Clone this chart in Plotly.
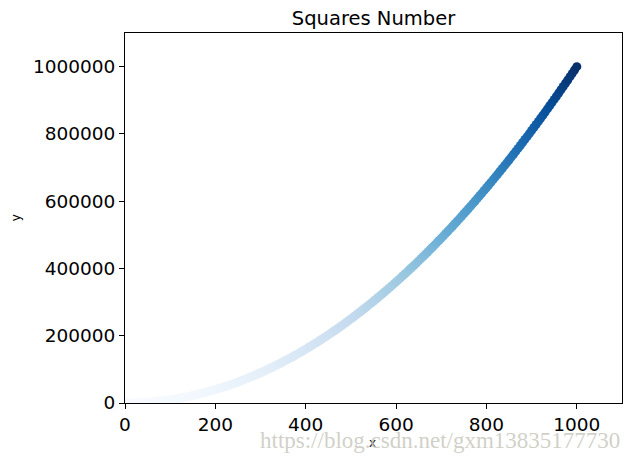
import plotly.graph_objects as go

x_values = [1, 5, 10, 15, 20, 25, 30, 35, 40, 45, 50, 55, 60, 65, 70, 75, 80, 85, 90, 95, 100,
            105, 110, 115, 120, 125, 130, 135, 140, 145, 150, 155, 160, 165, 170, 175, 180, 185, 190, 195, 200,
            205, 210, 215, 220, 225, 230, 235, 240, 245, 250, 255, 260, 265, 270, 275, 280, 285, 290, 295, 300,
            305, 310, 315, 320, 325, 330, 335, 340, 345, 350, 355, 360, 365, 370, 375, 380, 385, 390, 395, 400,
            405, 410, 415, 420, 425, 430, 435, 440, 445, 450, 455, 460, 465, 470, 475, 480, 485, 490, 495, 500,
            505, 510, 515, 520, 525, 530, 535, 540, 545, 550, 555, 560, 565, 570, 575, 580, 585, 590, 595, 600,
            605, 610, 615, 620, 625, 630, 635, 640, 645, 650, 655, 660, 665, 670, 675, 680, 685, 690, 695, 700,
            705, 710, 715, 720, 725, 730, 735, 740, 745, 750, 755, 760, 765, 770, 775, 780, 785, 790, 795, 800,
            805, 810, 815, 820, 825, 830, 835, 840, 845, 850, 855, 860, 865, 870, 875, 880, 885, 890, 895, 900,
            905, 910, 915, 920, 925, 930, 935, 940, 945, 950, 955, 960, 965, 970, 975, 980, 985, 990, 995, 1000]

y_values = [1, 25, 100, 225, 400, 625, 900, 1225, 1600, 2025, 2500, 3025, 3600, 4225, 4900, 5625, 6400, 7225, 8100, 9025, 10000,
            11025, 12100, 13225, 14400, 15625, 16900, 18225, 19600, 21025, 22500, 24025, 25600, 27225, 28900, 30625, 32400, 34225, 36100, 38025, 40000,
            42025, 44100, 46225, 48400, 50625, 52900, 55225, 57600, 60025, 62500, 65025, 67600, 70225, 72900, 75625, 78400, 81225, 84100, 87025, 90000,
            93025, 96100, 99225, 102400, 105625, 108900, 112225, 115600, 119025, 122500, 126025, 129600, 133225, 136900, 140625, 144400, 148225, 152100, 156025, 160000,
            164025, 168100, 172225, 176400, 180625, 184900, 189225, 193600, 198025, 202500, 207025, 211600, 216225, 220900, 225625, 230400, 235225, 240100, 245025, 250000,
            255025, 260100, 265225, 270400, 275625, 280900, 286225, 291600, 297025, 302500, 308025, 313600, 319225, 324900, 330625, 336400, 342225, 348100, 354025, 360000,
            366025, 372100, 378225, 384400, 390625, 396900, 403225, 409600, 416025, 422500, 429025, 435600, 442225, 448900, 455625, 462400, 469225, 476100, 483025, 490000,
            497025, 504100, 511225, 518400, 525625, 532900, 540225, 547600, 555025, 562500, 570025, 577600, 585225, 592900, 600625, 608400, 616225, 624100, 632025, 640000,
            648025, 656100, 664225, 672400, 680625, 688900, 697225, 705600, 714025, 722500, 731025, 739600, 748225, 756900, 765625, 774400, 783225, 792100, 801025, 810000,
            819025, 828100, 837225, 846400, 855625, 864900, 874225, 883600, 893025, 902500, 912025, 921600, 931225, 940900, 950625, 960400, 970225, 980100, 990025, 1000000]

x_ticks = [0, 200, 400, 600, 800, 1000]
y_ticks = [0, 200000, 400000, 600000, 800000, 1000000]

blues = ["#f7fbff", "#deebf7", "#c6dbef", "#9ecae1", "#6baed6",
         "#4292c6", "#2171b5", "#08519c", "#08306b"]
colorscale = [[i / (len(blues) - 1), c] for i, c in enumerate(blues)]

FONT = "DejaVu Sans"

fig = go.Figure(go.Scatter(
    x=x_values, y=y_values, mode="markers",
    marker=dict(size=9, color=y_values, colorscale=colorscale,
                cmin=min(y_values), cmax=max(y_values), line=dict(width=0)),
    hoverinfo="skip", showlegend=False,
))

axis_common = dict(showline=True, linecolor="black", linewidth=1, mirror=True,
                   ticks="outside", ticklen=5, tickcolor="black", tickwidth=1,
                   showgrid=False, zeroline=False,
                   tickfont=dict(family=FONT, size=18.5, color="black"))

fig.update_xaxes(range=[0, 1100], tickvals=x_ticks, ticktext=[str(v) for v in x_ticks], **axis_common)
fig.update_yaxes(range=[0, 1100000], tickvals=y_ticks, ticktext=[str(v) for v in y_ticks], **axis_common)

# The page body has an 8px margin, so the figure is sized 8px smaller to fit the 634x461 window.
fig.update_layout(
    width=626, height=453,
    margin=dict(l=117, r=12, t=25, b=58, autoexpand=False),
    plot_bgcolor="white", paper_bgcolor="white",
    font=dict(family=FONT, color="black"),
    title=dict(text="Squares Number", xref="paper", x=0.5, xanchor="center",
               yref="container", y=0.978, yanchor="middle",
               font=dict(family=FONT, size=19.5, color="black")),
    annotations=[
        dict(text="x", xref="paper", yref="paper", x=0.497, y=-0.108, xanchor="center", yanchor="middle",
             showarrow=False, font=dict(family=FONT, size=12, color="black")),
        dict(text="y", xref="paper", yref="paper", x=-0.219, y=0.5, xanchor="center", yanchor="middle",
             textangle=-90, showarrow=False, font=dict(family=FONT, size=12, color="black")),
        dict(text="https://blog.csdn.net/gxm13835177730", xref="paper", yref="paper",
             x=1.001, y=-0.1, xanchor="right", yanchor="middle", showarrow=False,
             font=dict(family="Liberation Serif", size=23, color="rgba(200,200,190,0.85)")),
    ],
)

fig.write_html("out.html")
